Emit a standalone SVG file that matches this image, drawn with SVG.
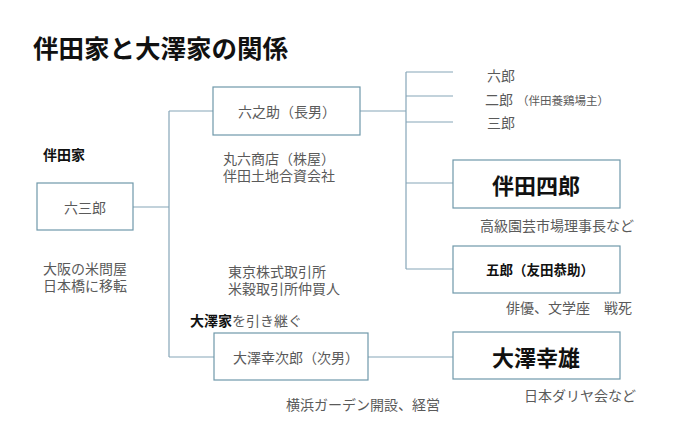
<svg xmlns="http://www.w3.org/2000/svg" width="678" height="436" viewBox="0 0 678 436">
<style>
text{font-family:"Noto Sans CJK JP","Noto Sans",sans-serif;dominant-baseline:central}
.g{fill:#5a5a5a;font-size:14px}
.s{fill:#5a5a5a;font-size:11.5px}
.b{fill:#111;font-weight:bold}
.box{fill:#fff;stroke:#6f98aa;stroke-width:1.2}
.ln{fill:none;stroke:#86a6b8;stroke-width:1.2}
</style>
<rect width="678" height="436" fill="#fff"/>
<text x="33" y="46" class="b" font-size="25.5">伴田家と大澤家の関係</text>
<g id="connectors">
<path class="ln" d="M133 207H169M169 111V357M169 111H213M169 357H214"/>
<path class="ln" d="M360 111H406M406 72V269M406 72H453M406 96H453M406 122H453M406 183H453M406 269H453"/>
<path class="ln" d="M368 357H453"/>
</g>
<g id="label-bandenke"><text x="43" y="154" class="b" font-size="14">伴田家</text></g>
<g id="node-rokusaburo">
<rect class="box" x="37" y="183" width="96" height="47"/>
<text x="85" y="207" class="g" text-anchor="middle">六三郎</text>
</g>
<g id="note-rokusaburo">
<text x="43" y="268" class="g">大阪の米問屋</text>
<text x="43" y="285" class="g">日本橋に移転</text>
</g>
<g id="node-rokunosuke">
<rect class="box" x="213" y="87" width="147" height="48"/>
<text x="287" y="111" class="g" text-anchor="middle">六之助（長男）</text>
</g>
<g id="note-rokunosuke">
<text x="223" y="158" class="g">丸六商店（株屋）</text>
<text x="223" y="175" class="g">伴田土地合資会社</text>
</g>
<g id="node-rokuro"><text x="487" y="75" class="g" font-size="13">六郎</text></g>
<g id="node-jiro"><text x="485" y="99" class="g" font-size="13">二郎</text><text x="517" y="100" class="s">（伴田養鶏場主）</text></g>
<g id="node-saburo"><text x="487" y="122" class="g" font-size="13">三郎</text></g>
<g id="node-shiro">
<rect class="box" x="453" y="160" width="167" height="48"/>
<text x="536" y="184" class="b" font-size="22" text-anchor="middle">伴田四郎</text>
<text x="480" y="225" class="g">高級園芸市場理事長など</text>
</g>
<g id="node-goro">
<rect class="box" x="453" y="246" width="167" height="47"/>
<text x="540" y="269" class="b" font-size="13.5" text-anchor="middle">五郎（友田恭助）</text>
<text x="506" y="307" class="g">俳優、文学座　戦死</text>
</g>
<g id="note-tokyo">
<text x="228" y="271" class="g">東京株式取引所</text>
<text x="228" y="288" class="g">米穀取引所仲買人</text>
</g>
<g id="label-osawa"><text x="190" y="320" font-size="14"><tspan class="b">大澤家</tspan><tspan fill="#5a5a5a">を引き継ぐ</tspan></text></g>
<g id="node-kojiro">
<rect class="box" x="214" y="333" width="154" height="47"/>
<text x="296" y="357" class="g" text-anchor="middle">大澤幸次郎（次男）</text>
<text x="286" y="404" class="g">横浜ガーデン開設、経営</text>
</g>
<g id="node-yukio">
<rect class="box" x="453" y="332" width="167" height="47"/>
<text x="536" y="356" class="b" font-size="22" text-anchor="middle">大澤幸雄</text>
<text x="524" y="395" class="g" font-size="13.6">日本ダリヤ会など</text>
</g>
</svg>
